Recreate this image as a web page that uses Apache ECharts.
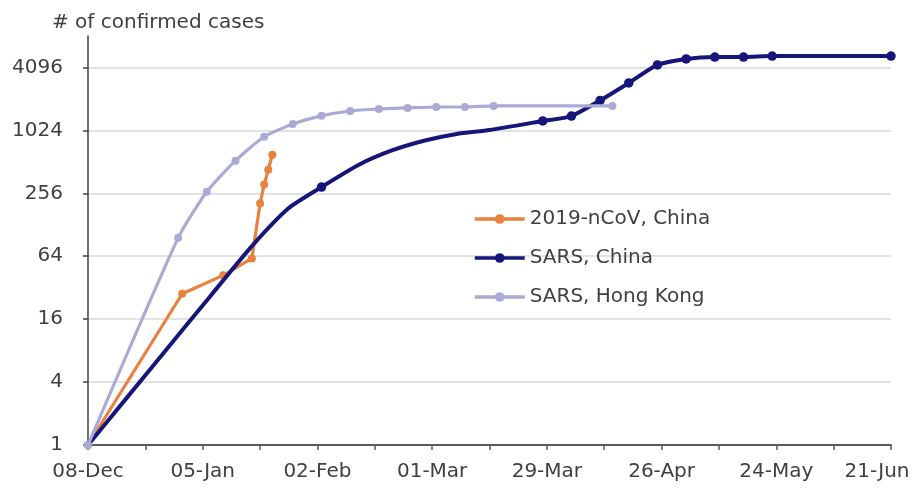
<!DOCTYPE html>
<html><head><meta charset="utf-8">
<script src="https://cdn.jsdelivr.net/npm/echarts@6/dist/echarts.min.js"></script>
<style>html,body{margin:0;padding:0;background:#fff}#c{width:914px;height:488px}</style>
</head><body><div id="c"></div>
<script>
// ---- data (x = days since 08-Dec) ----
const xTickLabels = ['08-Dec','05-Jan','02-Feb','01-Mar','29-Mar','26-Apr','24-May','21-Jun'];
const seriesNames = ['2019-nCoV, China','SARS, China','SARS, Hong Kong'];
const axisTitle = '# of confirmed cases';

const ncovDays   = [0, 23, 33, 40, 42, 43, 44, 45];
const ncovValues = [1, 28, 42, 61, 205, 310, 430, 600];

const sarsChinaDays   = [0, 10, 20, 30, 40, 49, 57, 66, 74, 82, 90, 98, 111, 118, 125, 132, 139, 146, 153, 160, 167, 196];
const sarsChinaValues = [1, 3, 9, 27, 80, 185, 294, 478, 654, 815, 946, 1033, 1260, 1405, 1980, 2910, 4330, 4940, 5150, 5150, 5260, 5260];
const sarsChinaReportedDays = [57, 111, 118, 125, 132, 139, 146, 153, 160, 167, 196];

const sarsHkDays   = [0, 22, 29, 36, 43, 50, 57, 64, 71, 78, 85, 92, 99, 128];
const sarsHkValues = [1, 96, 265, 525, 890, 1180, 1410, 1570, 1640, 1680, 1715, 1715, 1755, 1755];

// ---- chart ----
const FONT = 'DejaVu Sans';
const TXT = '#404040';
const colors = ['#E9813F', '#16167A', '#A9ABD4'];

function pairs(days, vals) { return days.map((d, i) => [d, vals[i]]); }

const ncovData = pairs(ncovDays, ncovValues);
const sarsChinaData = sarsChinaDays.map((d, i) => {
  const item = { value: [d, sarsChinaValues[i]] };
  if (sarsChinaReportedDays.indexOf(d) < 0) item.symbol = 'none';
  return item;
});
const sarsHkData = pairs(sarsHkDays, sarsHkValues);

const chart = echarts.init(document.getElementById('c'), null, { renderer: 'canvas' });
chart.setOption({
  backgroundColor: '#ffffff',
  animation: false,
  color: colors,
  title: {
    text: axisTitle, left: 47, top: 8,
    textStyle: { fontFamily: FONT, fontSize: 20, fontWeight: 'normal', color: TXT }
  },
  grid: { left: 88, right: 23, top: 36, bottom: 43, containLabel: false },
  legend: {
    orient: 'vertical', left: 473, top: 209, padding: 0, itemWidth: 50, itemHeight: 12, itemGap: 19,
    itemGap: 19,
    lineStyle: { width: 3.5 },
    textStyle: { fontFamily: FONT, fontSize: 20, color: TXT },
    data: seriesNames
  },
  xAxis: {
    type: 'value', min: 0, max: 196, interval: 14,
    axisLine: { show: true, lineStyle: { color: '#5a5a5a', width: 2 } },
    axisTick: { show: true, length: 5, lineStyle: { color: '#5a5a5a', width: 1.5 } },
    splitLine: { show: false },
    axisLabel: {
      margin: 17, fontFamily: FONT, fontSize: 20, color: TXT,
      formatter: function (v) {
        if (v % 28 !== 0) return '';
        const i = v / 28;
        if (i === xTickLabels.length - 1) return '{last|' + xTickLabels[i] + '}';
        return xTickLabels[i];
      },
      rich: { last: { fontFamily: FONT, fontSize: 20, color: TXT, padding: [0, 28, 0, 0] } }
    }
  },
  yAxis: {
    type: 'log', logBase: 2, min: 1, max: 8192, interval: 2,
    axisLine: { show: true, lineStyle: { color: '#404040', width: 1.5 } },
    axisTick: { show: true, length: 5, lineStyle: { color: '#404040', width: 1.5 } },
    splitLine: { show: true, showMinLine: false, showMaxLine: false, lineStyle: { color: '#d9d9d9', width: 1.5 } },
    axisLabel: {
      margin: 25, fontFamily: FONT, fontSize: 20, color: TXT, showMaxLabel: false,
      formatter: function (v) { return String(Math.round(v)); }
    }
  },
  series: [
    {
      name: seriesNames[0], type: 'line', data: ncovData,
      symbol: 'circle', symbolSize: 8, showAllSymbol: true,
      lineStyle: { width: 3.2, color: colors[0] }, itemStyle: { color: colors[0] }, z: 2
    },
    {
      name: seriesNames[1], type: 'line', data: sarsChinaData,
      symbol: 'circle', symbolSize: 9.5, showAllSymbol: true,
      smooth: 0.2,
      lineStyle: { width: 4, color: colors[1] }, itemStyle: { color: colors[1] }, z: 3
    },
    {
      name: seriesNames[2], type: 'line', data: sarsHkData,
      symbol: 'circle', symbolSize: 8, showAllSymbol: true,
      smooth: 0.2,
      lineStyle: { width: 3.2, color: colors[2] }, itemStyle: { color: colors[2] }, z: 4
    }
  ]
});
</script>
</body></html>
